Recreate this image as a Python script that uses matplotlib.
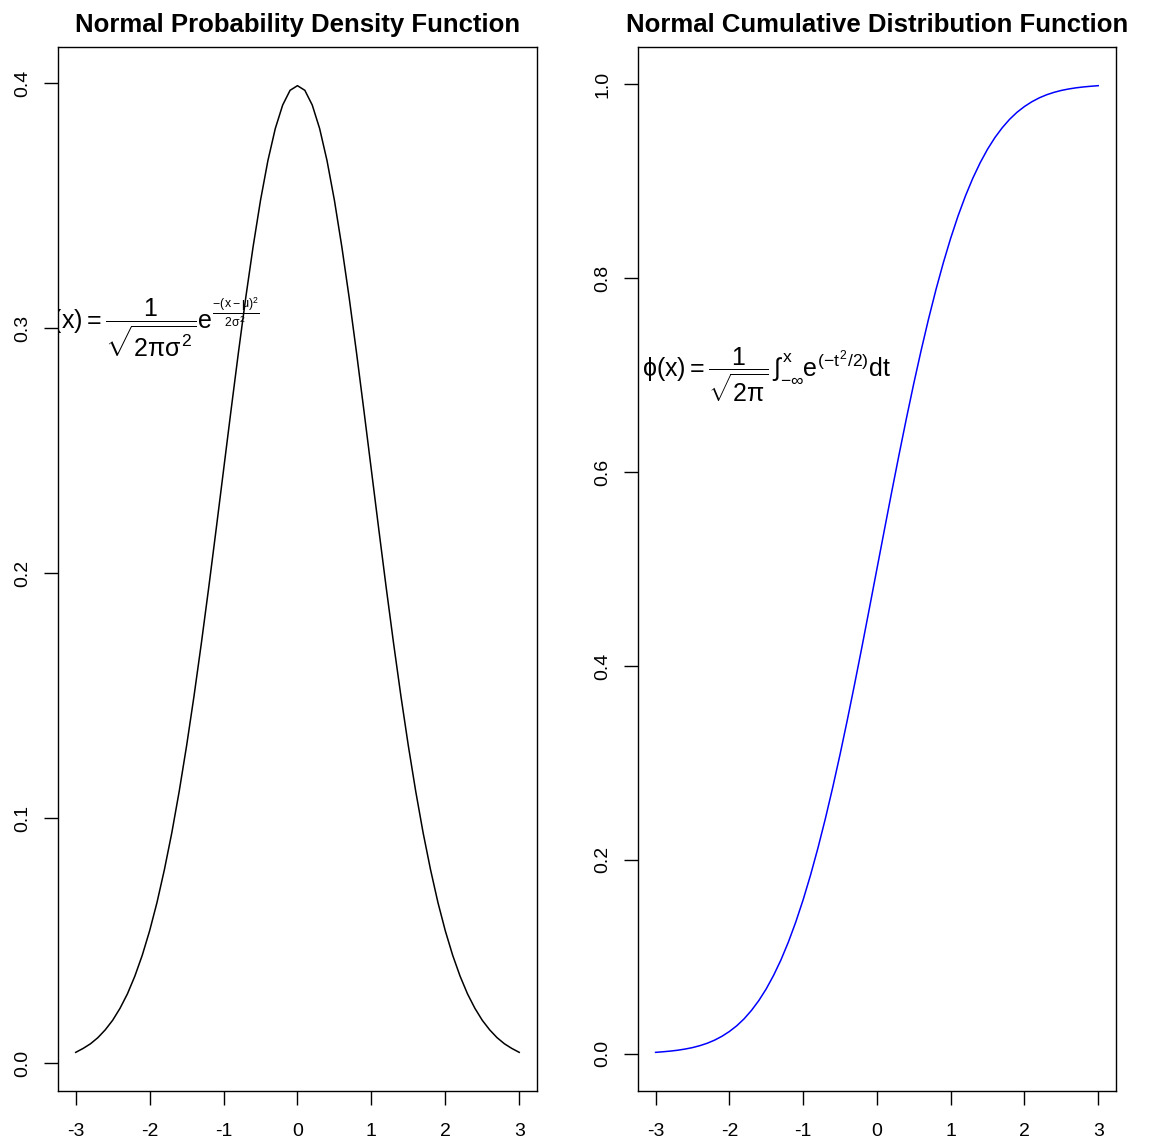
"""Normal PDF and CDF side by side, drawn in the look of base R graphics."""
import matplotlib
matplotlib.use('Agg')
import matplotlib.pyplot as plt

plt.rcParams['font.family'] = ['Liberation Sans', 'DejaVu Sans']
plt.rcParams['mathtext.fontset'] = 'custom'
plt.rcParams['mathtext.rm'] = 'Liberation Sans'
plt.rcParams['mathtext.it'] = 'Liberation Sans'
plt.rcParams['mathtext.bf'] = 'Liberation Sans:bold'

# x grid, -3 .. 3 in steps of 0.1
x_vals = [round(-3 + 0.1 * i, 1) for i in range(61)]

pdf_vals = [
    0.0044, 0.0060, 0.0079, 0.0104, 0.0136, 0.0175, 0.0224, 0.0283, 0.0355, 0.0440,
    0.0540, 0.0656, 0.0790, 0.0940, 0.1109, 0.1295, 0.1497, 0.1714, 0.1942, 0.2179,
    0.2420, 0.2661, 0.2897, 0.3123, 0.3332, 0.3521, 0.3683, 0.3814, 0.3910, 0.3970,
    0.3989,
    0.3970, 0.3910, 0.3814, 0.3683, 0.3521, 0.3332, 0.3123, 0.2897, 0.2661, 0.2420,
    0.2179, 0.1942, 0.1714, 0.1497, 0.1295, 0.1109, 0.0940, 0.0790, 0.0656, 0.0540,
    0.0440, 0.0355, 0.0283, 0.0224, 0.0175, 0.0136, 0.0104, 0.0079, 0.0060, 0.0044,
]

cdf_vals = [
    0.0013, 0.0019, 0.0026, 0.0035, 0.0047, 0.0062, 0.0082, 0.0107, 0.0139, 0.0179,
    0.0228, 0.0287, 0.0359, 0.0446, 0.0548, 0.0668, 0.0808, 0.0968, 0.1151, 0.1357,
    0.1587, 0.1841, 0.2119, 0.2420, 0.2743, 0.3085, 0.3446, 0.3821, 0.4207, 0.4602,
    0.5000,
    0.5398, 0.5793, 0.6179, 0.6554, 0.6915, 0.7257, 0.7580, 0.7881, 0.8159, 0.8413,
    0.8643, 0.8849, 0.9032, 0.9192, 0.9332, 0.9452, 0.9554, 0.9641, 0.9713, 0.9772,
    0.9821, 0.9861, 0.9893, 0.9918, 0.9938, 0.9953, 0.9965, 0.9974, 0.9981, 0.9987,
]

x_ticks = [-3, -2, -1, 0, 1, 2, 3]
pdf_ticks = [0.0, 0.1, 0.2, 0.3, 0.4]
cdf_ticks = [0.0, 0.2, 0.4, 0.6, 0.8, 1.0]

titles = ['Normal Probability Density Function',
          'Normal Cumulative Distribution Function']
pdf_formula = (r'$f(x) = \dfrac{1}{\sqrt{2\pi\sigma^2}}'
               r'e^{\frac{-(x-\mu)^2}{2\sigma^2}}$')
cdf_formula = (r'$\phi(x) = \dfrac{1}{\sqrt{2\pi}}\,'
               r'\int_{-\infty}^{x}e^{(-t^2/2)}dt$')


def r_limits(vals):
    lo, hi = min(vals), max(vals)
    pad = (hi - lo) * 0.04
    return lo - pad, hi + pad


def style_axes(ax, yticks, title):
    ax.set_xlim(r_limits(x_vals))
    ax.set_xticks(x_ticks)
    ax.set_xticklabels([str(t) for t in x_ticks])
    ax.set_yticks(yticks)
    ax.set_yticklabels([f'{t:.1f}' for t in yticks], rotation=90, va='center')
    ax.tick_params(axis='both', direction='out', length=10, width=1.0,
                   labelsize=14, color='black')
    ax.tick_params(axis='x', pad=13)
    ax.tick_params(axis='y', pad=9)
    for spine in ax.spines.values():
        spine.set_linewidth(1.0)
        spine.set_color('black')
    ax.set_title(title, fontsize=18.5, fontweight='bold', pad=11)


fig = plt.figure(figsize=(11.64, 11.41), dpi=100)
ax1 = fig.add_axes([0.0498, 0.0438, 0.4115, 0.915])
ax2 = fig.add_axes([0.548, 0.0438, 0.4107, 0.915])

ax1.plot(x_vals, pdf_vals, color='black', lw=1.1)
ax1.set_ylim(r_limits(pdf_vals))
style_axes(ax1, pdf_ticks, titles[0])
ax1.text(-1.95, 0.3, pdf_formula, fontsize=18, ha='center', va='center',
         clip_on=True)

ax2.plot(x_vals, cdf_vals, color='blue', lw=1.1)
ax2.set_ylim(r_limits(cdf_vals))
style_axes(ax2, cdf_ticks, titles[1])
ax2.text(-1.5, 0.7, cdf_formula, fontsize=18, ha='center', va='center',
         clip_on=True)

fig.savefig('out.png', dpi=100)
